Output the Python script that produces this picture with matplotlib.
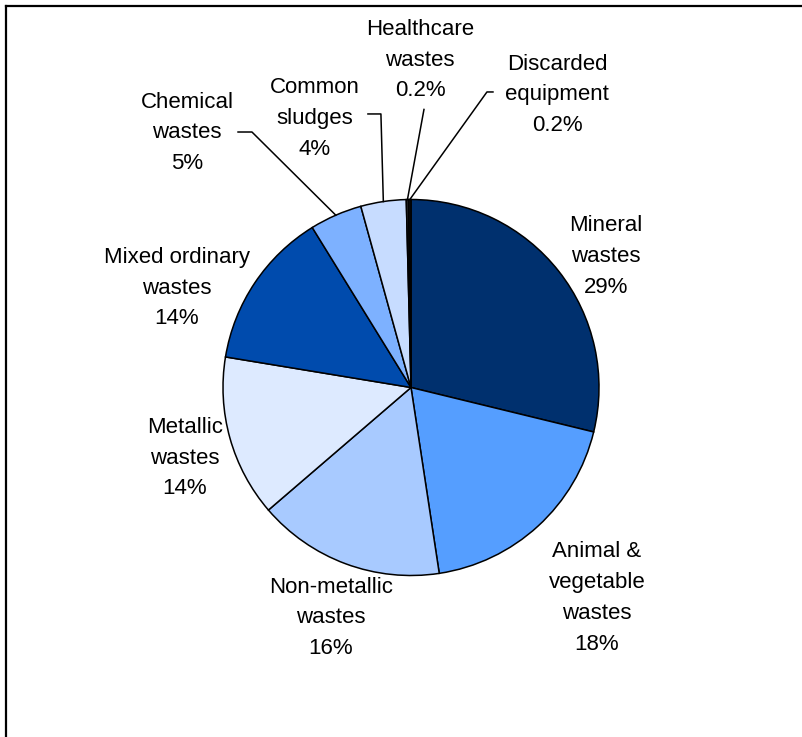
import matplotlib.pyplot as plt
from matplotlib.lines import Line2D
import numpy as np

plt.rcParams['font.family'] = ['Liberation Sans', 'DejaVu Sans']

# waste categories, clockwise from 12 o'clock
categories = ["Mineral\nwastes", "Animal &\nvegetable\nwastes", "Non-metallic\nwastes",
              "Metallic\nwastes", "Mixed ordinary\nwastes", "Chemical\nwastes",
              "Common\nsludges", "Healthcare\nwastes", "Discarded\nequipment"]
shares = [28.8, 18.8, 16.1, 13.9, 13.6, 4.5, 3.9, 0.2, 0.2]
pct_labels = ["29%", "18%", "16%", "14%", "14%", "5%", "4%", "0.2%", "0.2%"]
colors = ["#00306E", "#559EFF", "#A8CAFF", "#DDEAFF", "#004BAD",
          "#7DB1FF", "#C7DCFF", "#2A2A2A", "#101010"]

# label centres (pie radius = 1)
label_pos = [(1.037, 0.699), (0.989, -1.120), (-0.426, -1.226), (-1.202, -0.375),
             (-1.245, 0.529), (-1.191, 1.354), (-0.511, 1.433), (0.048, 1.742),
             (0.777, 1.556)]
# leader lines for small slices: index -> (elbow, end next to text)
leaders = {5: [(-0.846, 1.359), (-0.920, 1.359)],
           6: [(-0.160, 1.455), (-0.229, 1.455)],
           7: [(0.069, 1.479)],
           8: [(0.404, 1.572), (0.436, 1.572)]}

fig = plt.figure(figsize=(8.03, 7.37), dpi=100)
ax = fig.add_axes([0, 0, 1, 1])
wedges, _ = ax.pie(shares, colors=colors, startangle=90, counterclock=False,
                   radius=1, wedgeprops=dict(edgecolor="black", linewidth=1.1))
ax.set_xlim(-411 / 188, (803 - 411) / 188)
ax.set_ylim(-(737 - 387.5) / 188, 387.5 / 188)
ax.axis("off")

for i, w in enumerate(wedges):
    x, y = label_pos[i]
    ax.text(x, y, categories[i] + "\n" + pct_labels[i], ha="center", va="center",
            fontsize=16, linespacing=1.62)
    if i in leaders:
        mid = np.deg2rad((w.theta1 + w.theta2) / 2)
        pts = [(np.cos(mid), np.sin(mid))] + leaders[i]
        ax.plot([p[0] for p in pts], [p[1] for p in pts], color="black", lw=1.1)

# chart area border (only top and left visible)
fig.add_artist(Line2D([6 / 803, 6 / 803], [-0.01, 1 - 6 / 737], transform=fig.transFigure,
                      color="black", lw=1.6))
fig.add_artist(Line2D([6 / 803, 1.01], [1 - 6 / 737, 1 - 6 / 737], transform=fig.transFigure,
                      color="black", lw=1.6))

fig.savefig("out.png", dpi=100)
